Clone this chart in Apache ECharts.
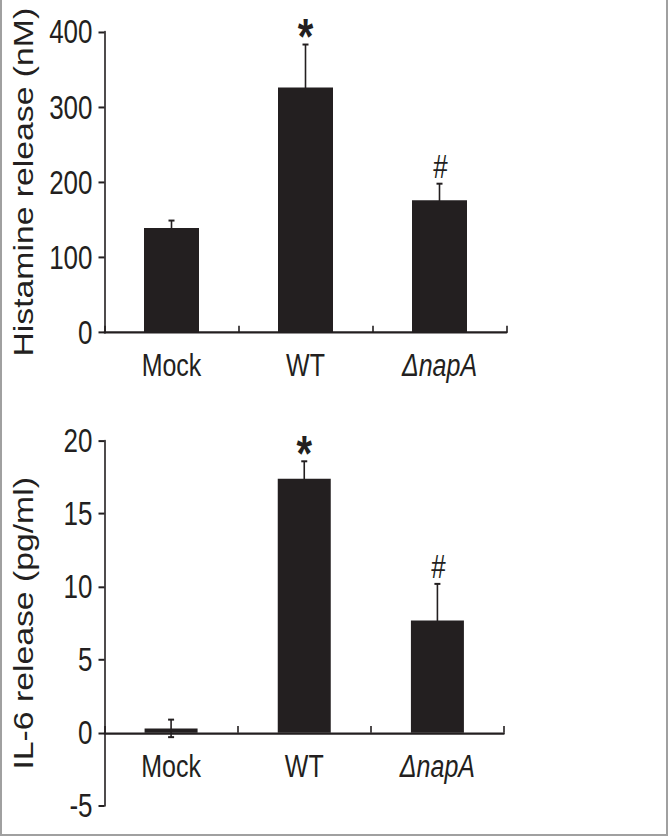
<!DOCTYPE html>
<html>
<head>
<meta charset="utf-8">
<script src="https://cdn.jsdelivr.net/npm/echarts@6/dist/echarts.min.js"></script>
<style>
  html, body { margin: 0; padding: 0; background: #fff; }
  #frame { position: absolute; left: 0; top: 0; width: 668px; height: 836px; box-sizing: border-box;
           border-left: 2px solid #a0a0a0; border-right: 2px solid #a0a0a0; border-bottom: 2px solid #a0a0a0; overflow: hidden; }
  #chart { position: absolute; left: -2px; top: 0; width: 668px; height: 669px;
           transform: scaleY(1.2496); transform-origin: 0 0; }
</style>
</head>
<body>
<div id="frame"><div id="chart"></div></div>
<script>
// ---- data ----
const categories = ['Mock', 'WT', 'ΔnapA'];
const histMean = [139, 326, 176];
const histErr = [10, 57, 22];
const il6Mean = [0.3, 17.4, 7.7];
const il6Err = [0.6, 1.2, 2.5];
const marks = ['', '*', '#'];
const histAxis = { min: 0, max: 400, interval: 100 };
const il6Axis = { min: -5, max: 20, interval: 5 };
const histName = 'Histamine release (nM)';
const il6Name = 'IL-6 release (pg/ml)';

const INK = '#231f20';
const FONT = '"Liberation Sans", Arial, sans-serif';

const grids = [
  { left: 104.5, right: 161.5, top: 25.4, bottom: 402.8 },
  { left: 104.5, right: 164, top: 352.8, bottom: 24.2 }
];
const CH = 669;

function errData(mean, err) {
  return mean.map((m, i) => [i, m, err[i]]);
}

function renderErr(params, api) {
  const x = api.value(0), m = api.value(1), e = api.value(2);
  const top = api.coord([x, m + e]);
  const bot = api.coord([x, m - e]);
  const cw = 3;
  const children = [
    { type: 'line', shape: { x1: top[0], y1: top[1], x2: bot[0], y2: bot[1] }, style: { stroke: INK, lineWidth: 1.6 } },
    { type: 'line', shape: { x1: top[0] - cw, y1: top[1], x2: top[0] + cw, y2: top[1] }, style: { stroke: INK, lineWidth: 1.6 } },
    { type: 'line', shape: { x1: bot[0] - cw, y1: bot[1], x2: bot[0] + cw, y2: bot[1] }, style: { stroke: INK, lineWidth: 1.6 } }
  ];
  const mk = marks[params.dataIndex];
  if (mk === '*') {
    children.push({ type: 'text', style: { text: '*', x: top[0], y: top[1] + 14, align: 'center', verticalAlign: 'bottom',
      fill: INK, font: 'bold 40px ' + FONT } });
  } else if (mk === '#') {
    children.push({ type: 'text', style: { text: '#', x: top[0] + 1, y: top[1] - 1, align: 'center', verticalAlign: 'bottom',
      fill: INK, font: '26px ' + FONT } });
  }
  return { type: 'group', children };
}

function zeroOffset(gi, ax) {
  const h = CH - grids[gi].top - grids[gi].bottom;
  return -((0 - ax.min) / (ax.max - ax.min)) * h;
}

function xAxisCfg(gridIndex, ax, margin) {
  return {
    type: 'category', gridIndex, data: categories, boundaryGap: true,
    position: 'bottom', offset: zeroOffset(gridIndex, ax),
    axisLine: { onZero: false, lineStyle: { color: INK, width: 1.8 } },
    axisTick: { show: true, inside: true, length: 5.5, lineStyle: { color: INK, width: 1.6 } },
    axisLabel: { interval: 0, margin, color: INK, fontSize: 25, fontFamily: FONT,
      formatter: v => v.charAt(0) === 'Δ' ? '{i|' + v + '}' : v,
      rich: { i: { fontStyle: 'italic', fontSize: 25, fontFamily: FONT, color: INK } } },
    splitLine: { show: false }
  };
}

function yAxisCfg(gridIndex, ax, name) {
  return {
    type: 'value', gridIndex, min: ax.min, max: ax.max, interval: ax.interval,
    name, nameLocation: 'middle', nameRotate: 90, nameGap: 68,
    nameTextStyle: { color: INK, fontSize: 27, fontFamily: FONT },
    axisLine: { show: true, lineStyle: { color: INK, width: 1.6 } },
    axisTick: { show: true, inside: false, length: 6, lineStyle: { color: INK, width: 1.6 } },
    axisLabel: { margin: 12, color: INK, fontSize: 26, fontFamily: FONT },
    splitLine: { show: false }
  };
}

const chart = echarts.init(document.getElementById('chart'), null, { renderer: 'svg' });
chart.setOption({
  backgroundColor: '#fff',
  animation: false,
  grid: grids,
  xAxis: [xAxisCfg(0, histAxis, 13), xAxisCfg(1, il6Axis, 14)],
  yAxis: [yAxisCfg(0, histAxis, histName), yAxisCfg(1, il6Axis, il6Name)],
  series: [
    { type: 'bar', xAxisIndex: 0, yAxisIndex: 0, data: histMean, barWidth: 55, itemStyle: { color: INK }, z: 3 },
    { type: 'custom', xAxisIndex: 0, yAxisIndex: 0, data: errData(histMean, histErr), renderItem: renderErr, clip: false, z: 2 },
    { type: 'bar', xAxisIndex: 1, yAxisIndex: 1, data: il6Mean, barWidth: 53, itemStyle: { color: INK }, z: 3 },
    { type: 'custom', xAxisIndex: 1, yAxisIndex: 1, data: errData(il6Mean, il6Err), renderItem: renderErr, clip: false, z: 2 }
  ]
});
</script>
</body>
</html>
